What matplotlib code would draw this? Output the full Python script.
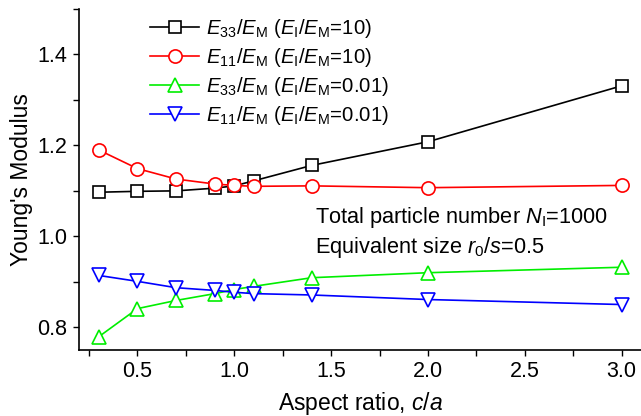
import matplotlib
matplotlib.use("Agg")
import matplotlib.pyplot as plt
from matplotlib.ticker import MultipleLocator

plt.rcParams['font.family'] = ['Liberation Sans', 'DejaVu Sans']
plt.rcParams['mathtext.fontset'] = 'custom'
plt.rcParams['mathtext.rm'] = 'Liberation Sans'
plt.rcParams['mathtext.it'] = 'Liberation Sans:italic'
plt.rcParams['mathtext.bf'] = 'Liberation Sans:bold'

aspect_ratio = [0.3, 0.5, 0.7, 0.9, 1.0, 1.1, 1.4, 2.0, 3.0]
e33_stiff = [1.097, 1.099, 1.100, 1.106, 1.111, 1.122, 1.156, 1.208, 1.331]
e11_stiff = [1.190, 1.149, 1.126, 1.115, 1.112, 1.110, 1.111, 1.107, 1.112]
e33_soft = [0.779, 0.841, 0.859, 0.874, 0.883, 0.890, 0.909, 0.920, 0.932]
e11_soft = [0.914, 0.901, 0.887, 0.881, 0.877, 0.874, 0.871, 0.861, 0.850]

labels = [r'$E_{33}/E_{\rm M}$ ($E_{\rm I}/E_{\rm M}$=10)',
          r'$E_{11}/E_{\rm M}$ ($E_{\rm I}/E_{\rm M}$=10)',
          r'$E_{33}/E_{\rm M}$ ($E_{\rm I}/E_{\rm M}$=0.01)',
          r'$E_{11}/E_{\rm M}$ ($E_{\rm I}/E_{\rm M}$=0.01)']

W, H = 641, 416
fig = plt.figure(figsize=(W/100, H/100), dpi=100)
left, bottom, top = 79.3, 350.0, 9.0
ax = fig.add_axes([left/W, 1-bottom/H, 1-left/W, (bottom-top)/H])

series = [(e33_stiff, 'black', 's', 8),
          (e11_stiff, 'red', 'o', 9.5),
          (e33_soft, '#00ee00', '^', 10),
          (e11_soft, 'blue', 'v', 10)]
for (vals, col, mk, ms), lab in zip(series, labels):
    ax.plot(aspect_ratio, vals, color=col, marker=mk, markersize=ms,
            markerfacecolor='white', markeredgecolor=col, markeredgewidth=1.2,
            linewidth=1.2, label=lab)

ax.set_xlim(0.2, 3.1)
ax.set_ylim(0.75, 1.5)
ax.xaxis.set_major_locator(MultipleLocator(0.5))
ax.xaxis.set_minor_locator(MultipleLocator(0.25))
ax.yaxis.set_major_locator(MultipleLocator(0.2))
ax.yaxis.set_minor_locator(MultipleLocator(0.1))
ax.tick_params(which='both', direction='out', labelsize=15.5, width=1.0)
ax.tick_params(which='major', length=4)
ax.tick_params(which='minor', length=4)
ax.tick_params(axis='x', pad=4)
ax.tick_params(axis='y', pad=4.5)
for s in ['top', 'right']:
    ax.spines[s].set_visible(False)
for s in ['left', 'bottom']:
    ax.spines[s].set_linewidth(1.2)

ax.set_xlabel(r'Aspect ratio, $c/a$', fontsize=16.5, labelpad=6)
ax.set_ylabel("Young's Modulus", fontsize=16.5, labelpad=3)

ax.legend(loc='upper left', bbox_to_anchor=(150/W, 1-17/H), bbox_transform=fig.transFigure,
          frameon=False, fontsize=14.7, handlelength=2.4, handletextpad=0.35,
          labelspacing=0.3, borderaxespad=0, borderpad=0)

fig.text(315/W, 1-223/H, r'Total particle number $N_{\rm I}$=1000', fontsize=15.7,
         ha='left', va='baseline')
fig.text(315/W, 1-253/H, r'Equivalent size $r_0/s$=0.5', fontsize=15.7,
         ha='left', va='baseline')

fig.savefig('out.png', dpi=100)
